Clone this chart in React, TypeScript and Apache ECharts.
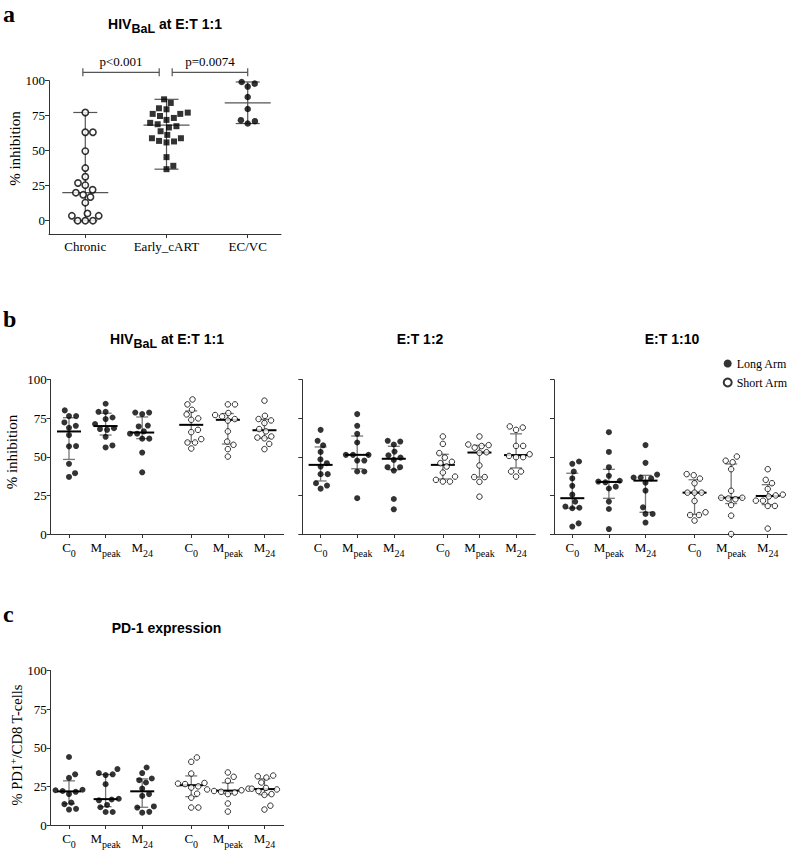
import { useEffect, useRef } from 'react';
import * as echarts from 'echarts';

const SERIF = '"Liberation Serif", "Times New Roman", serif';
const SANS = '"Liberation Sans", Arial, sans-serif';

// ---------------- DATA ----------------
// Panel a
const catsA = ['Chronic', 'Early_cART', 'EC/VC'];
const chronic = [77.3, 63.2, 63.2, 49.7, 37.6, 31.4, 26.9, 25.4, 22.1, 20.0, 18.5, 16.9, 12.9, 5.2, 3.5, 3.5, 0, 0, 0];
const earlyCart = [86.7, 84.1, 80.3, 79.6, 77.2, 76.3, 76.3, 74.8, 73.4, 72.0, 69.9, 68.9, 67.5, 66.6, 63.9, 61.3, 58.9, 58.9, 57.0, 56.6, 55.9, 45.4, 39.2, 36.8];
const ecvc = [99.1, 97.9, 95.8, 88.4, 79.8, 71.8, 71.1, 69.4];
const pValues = ['p<0.001', 'p=0.0074'];

// Panels b & c: timepoints
const timepoints = ['C0', 'Mpeak', 'M24'];
const yTicks = [0, 25, 50, 75, 100];

// E:T 1:1 (HIV BaL)
const et11LongC0 = [80.1, 76.4, 76.4, 72.3, 70.1, 68.8, 64.1, 57.0, 56.8, 45.5, 39.4, 37.0];
const et11LongMpeak = [84.4, 79.2, 79.2, 75.5, 74.5, 71.3, 68.6, 68.0, 67.5, 63.0, 57.4, 56.1];
const et11LongM24 = [78.7, 78.7, 77.7, 70.3, 69.7, 66.5, 65.0, 65.0, 61.8, 61.8, 52.8, 40.0];
const et11ShortC0 = [87.2, 84.0, 80.5, 77.5, 74.9, 74.0, 67.5, 66.0, 61.5, 59.3, 59.3, 55.4];
const et11ShortMpeak = [84.0, 84.0, 78.4, 77.1, 76.2, 74.5, 73.5, 66.5, 59.9, 57.8, 55.0, 50.2];
const et11ShortM24 = [86.4, 76.6, 74.5, 73.6, 71.9, 68.0, 66.5, 63.2, 62.5, 62.0, 58.4, 55.0];

// E:T 1:2
const et12LongC0 = [67.5, 60.4, 57.5, 53.2, 48.3, 45.9, 43.7, 38.8, 38.8, 32.9, 31.4, 29.4];
const et12LongMpeak = [77.7, 70.1, 64.9, 59.3, 51.3, 51.3, 51.3, 47.6, 47.6, 40.5, 40.5, 23.2];
const et12LongM24 = [60.4, 59.9, 58.0, 53.4, 51.0, 49.5, 48.0, 43.3, 43.3, 41.1, 22.7, 16.0];
const et12ShortC0 = [63.2, 58.4, 52.4, 49.5, 46.8, 45.9, 43.7, 39.8, 37.2, 35.1, 34.0, 34.0];
const et12ShortMpeak = [63.2, 58.0, 57.6, 57.0, 56.0, 53.0, 52.6, 44.4, 36.9, 36.9, 33.8, 24.2];
const et12ShortM24 = [69.7, 69.0, 67.5, 57.1, 57.1, 51.7, 50.6, 49.8, 49.8, 40.5, 40.5, 37.2];

// E:T 1:10
const et110LongC0 = [47.0, 45.5, 40.5, 36.0, 31.2, 25.5, 20.9, 17.8, 17.0, 16.7, 6.9, 4.8];
const et110LongMpeak = [66.0, 53.2, 43.3, 37.7, 34.5, 34.0, 33.5, 30.7, 29.5, 21.0, 16.2, 3.2];
const et110LongM24 = [57.6, 46.1, 38.5, 36.6, 36.6, 36.0, 33.2, 28.1, 17.3, 13.0, 13.0, 7.4];
const et110ShortC0 = [38.8, 38.1, 35.9, 32.9, 26.8, 26.8, 26.8, 21.4, 14.1, 12.3, 12.3, 8.7];
const et110ShortMpeak = [50.2, 47.5, 46.5, 42.0, 28.0, 23.5, 23.5, 23.0, 22.5, 18.8, 11.9, 0];
const et110ShortM24 = [42.0, 35.1, 32.9, 29.2, 25.5, 25.0, 24.3, 21.6, 21.6, 18.2, 18.2, 3.5];

// PD-1 expression
const pd1LongC0 = [44.0, 32.8, 30.5, 22.8, 22.5, 22.0, 21.5, 20.0, 14.5, 13.5, 10.5, 10.0];
const pd1LongMpeak = [36.2, 33.6, 32.8, 32.3, 26.4, 17.0, 16.5, 16.0, 13.0, 11.5, 8.4, 8.4];
const pd1LongM24 = [37.2, 33.6, 30.1, 29.0, 27.5, 23.6, 20.0, 18.8, 12.0, 11.3, 8.5, 8.0];
const pd1ShortC0 = [43.7, 40.9, 33.3, 27.2, 26.8, 26.5, 25.0, 24.2, 20.3, 17.7, 11.3, 11.3];
const pd1ShortMpeak = [34.0, 31.2, 28.6, 23.5, 23.0, 22.5, 22.0, 21.5, 21.0, 20.0, 13.9, 8.7];
const pd1ShortM24 = [32.0, 31.5, 30.7, 27.5, 24.0, 23.5, 23.0, 22.0, 20.0, 19.5, 12.5, 10.0];

// ---------------- LAYOUT ----------------
const A = { left: 49, top: 80.7, width: 232, height: 153.3, xMin: -0.447, xMax: 2.41, yMin: -9.5, yMax: 100 };
const B_LEFTS = [50.7, 302.3, 554];
const B = { top: 379.7, width: 233, height: 154.3, xMin: -0.5, xMax: 5.866, yMin: 0, yMax: 100 };
const C = { left: 50.7, top: 670.5, width: 233, height: 154.5, xMin: -0.5, xMax: 5.866, yMin: 0, yMax: 100 };
const POS_A = [0, 1, 2];
const POS_B = [0, 1, 2, 3.34, 4.34, 5.34];
const BRACKETS = [
  { from: -0.03, to: 0.91, level: 106, label: 0 },
  { from: 1.07, to: 2.0, level: 106, label: 1 },
];
const AXIS_COLOR = '#333';

// ---------------- HELPERS ----------------
function quantile(a: number[], p: number) {
  const s = [...a].sort((x, y) => x - y);
  const n = s.length;
  const pos = (n + 1) * p;
  if (pos <= 1) return s[0];
  if (pos >= n) return s[n - 1];
  const lo = Math.floor(pos);
  const f = pos - lo;
  return s[lo - 1] + f * (s[lo] - s[lo - 1]);
}

// compact beeswarm in pixel space
function swarm(vals: number[], pxY: number, d: number) {
  const idx = vals.map((_, i) => i).sort((a, b) => vals[a] - vals[b]);
  const placed: { x: number; y: number }[] = [];
  const out = new Array(vals.length).fill(0);
  for (const i of idx) {
    const y = vals[i] * pxY;
    const cands = [0];
    for (const p of placed) {
      const dy = Math.abs(y - p.y);
      if (dy < d) {
        const dx = Math.sqrt(d * d - dy * dy);
        cands.push(p.x - dx, p.x + dx);
      }
    }
    const ok = cands.filter((c) => placed.every((p) => (c - p.x) ** 2 + (y - p.y) ** 2 >= d * d - 0.01));
    const bias = placed.reduce((s, p) => s + (Math.abs(y - p.y) < d ? p.x : 0), 0);
    ok.sort((a, b) => {
      const diff = Math.abs(a) - Math.abs(b);
      if (Math.abs(diff) > 1e-6) return diff;
      return bias > 0 ? a - b : b - a;
    });
    const x = ok[0];
    placed.push({ x, y });
    out[i] = x;
  }
  return out;
}

function swarmData(groups: number[][], positions: number[], pxX: number, pxY: number, d: number) {
  const out: number[][] = [];
  groups.forEach((g, gi) => {
    const offs = swarm(g, pxY, d);
    g.forEach((v, k) => out.push([positions[gi] + offs[k] / pxX, v]));
  });
  return out;
}

type ErrStyle = { wColor: string; wWidth: number; cap: number; med: number; mColor: string; mWidth: number };

function errSeries(gi: number, data: number[][], st: ErrStyle) {
  return {
    type: 'custom',
    name: 'err',
    xAxisIndex: gi,
    yAxisIndex: gi,
    clip: false,
    silent: true,
    z: 1,
    encode: { x: 0, y: [1, 2, 3] },
    data,
    renderItem: (_p: any, api: any) => {
      const x = api.value(0);
      const lo = api.coord([x, api.value(1)]);
      const md = api.coord([x, api.value(2)]);
      const hi = api.coord([x, api.value(3)]);
      const ws = { stroke: st.wColor, lineWidth: st.wWidth };
      return {
        type: 'group',
        children: [
          { type: 'line', shape: { x1: lo[0], y1: lo[1], x2: hi[0], y2: hi[1] }, style: ws },
          { type: 'line', shape: { x1: lo[0] - st.cap, y1: lo[1], x2: lo[0] + st.cap, y2: lo[1] }, style: ws },
          { type: 'line', shape: { x1: hi[0] - st.cap, y1: hi[1], x2: hi[0] + st.cap, y2: hi[1] }, style: ws },
          { type: 'line', shape: { x1: md[0] - st.med, y1: md[1], x2: md[0] + st.med, y2: md[1] }, style: { stroke: st.mColor, lineWidth: st.mWidth } },
        ],
      };
    },
  };
}

const tpRich = {
  m: { fontFamily: SERIF, fontSize: 13, lineHeight: 13, verticalAlign: 'top', color: '#000' },
  s: { fontFamily: SERIF, fontSize: 10, lineHeight: 25, color: '#000' },
};
const tpLabel = (v: number) => {
  const i = POS_B.findIndex((p) => Math.abs(p - v) < 0.01);
  const t = timepoints[i % 3];
  return '{m|' + t.charAt(0) + '}{s|' + t.slice(1) + '}';
};

function xAxisB(gi: number, box: any) {
  return {
    gridIndex: gi,
    type: 'value',
    min: box.xMin,
    max: box.xMax,
    axisLine: { show: true, onZero: false, lineStyle: { color: AXIS_COLOR, width: 1 } },
    axisTick: { show: true, length: 4, customValues: POS_B, lineStyle: { color: AXIS_COLOR } },
    axisLabel: { customValues: POS_B, formatter: tpLabel, margin: 7, rich: tpRich },
    splitLine: { show: false },
  };
}

function yAxisB(gi: number, showLabels: boolean) {
  return {
    gridIndex: gi,
    type: 'value',
    min: 0,
    max: 100,
    interval: 25,
    axisLine: { show: true, onZero: false, lineStyle: { color: AXIS_COLOR, width: 1 } },
    axisTick: { show: true, length: 4, lineStyle: { color: AXIS_COLOR } },
    axisLabel: { show: showLabels, margin: 4, fontFamily: SERIF, fontSize: 13, color: '#000' },
    splitLine: { show: false },
  };
}

const errB: ErrStyle = { wColor: '#777', wWidth: 1.3, cap: 6, med: 12, mColor: '#000', mWidth: 2 };
const errA: ErrStyle = { wColor: '#555', wWidth: 1.2, cap: 12, med: 23, mColor: '#555', mWidth: 1.2 };

function longShortSeries(gi: number, longG: number[][], shortG: number[][], box: any) {
  const pxX = box.width / (box.xMax - box.xMin);
  const pxY = box.height / (box.yMax - box.yMin);
  const d = 7.1;
  const allG = [...longG, ...shortG];
  const errData = allG.map((g, i) => [POS_B[i], quantile(g, 0.25), quantile(g, 0.5), quantile(g, 0.75)]);
  return [
    errSeries(gi, errData, errB),
    {
      type: 'scatter', name: 'Long Arm', xAxisIndex: gi, yAxisIndex: gi, z: 3, silent: true,
      symbol: 'circle', symbolSize: 6,
      itemStyle: { color: '#000' },
      data: swarmData(longG, POS_B.slice(0, 3), pxX, pxY, d),
    },
    {
      type: 'scatter', name: 'Short Arm', xAxisIndex: gi, yAxisIndex: gi, z: 3, silent: true,
      symbol: 'circle', symbolSize: 5.5,
      itemStyle: { color: '#fff', borderColor: '#000', borderWidth: 1 },
      data: swarmData(shortG, POS_B.slice(3, 6), pxX, pxY, d),
    },
  ];
}

function buildOption() {
  const pxXA = A.width / (A.xMax - A.xMin);
  const pxYA = A.height / (A.yMax - A.yMin);
  const groupsA = [chronic, earlyCart, ecvc];
  const errDataA = groupsA.map((g, i) => [POS_A[i], Math.min(...g), quantile(g, 0.5), Math.max(...g)]);
  const swA = groupsA.map((g, i) => {
    const offs = swarm(g, pxYA, 7.6);
    return g.map((v, k) => [POS_A[i] + offs[k] / pxXA, v]);
  });

  const bracketSeries = {
    type: 'custom',
    name: 'brackets',
    xAxisIndex: 0,
    yAxisIndex: 0,
    clip: false,
    silent: true,
    z: 1,
    data: BRACKETS.map((b) => [b.from, b.to, b.level, b.label]),
    renderItem: (_p: any, api: any) => {
      const p1 = api.coord([api.value(0), api.value(2)]);
      const p2 = api.coord([api.value(1), api.value(2)]);
      const st = { stroke: '#555', lineWidth: 1.2 };
      return {
        type: 'group',
        children: [
          { type: 'line', shape: { x1: p1[0], y1: p1[1], x2: p2[0], y2: p2[1] }, style: st },
          { type: 'line', shape: { x1: p1[0], y1: p1[1] - 4, x2: p1[0], y2: p1[1] + 4 }, style: st },
          { type: 'line', shape: { x1: p2[0], y1: p2[1] - 4, x2: p2[0], y2: p2[1] + 4 }, style: st },
          {
            type: 'text',
            x: (p1[0] + p2[0]) / 2,
            y: p1[1] - 4,
            style: {
              text: pValues[api.value(3)], fill: '#000', fontFamily: SERIF, fontSize: 13,
              align: 'center', verticalAlign: 'bottom', textAlign: 'center', textVerticalAlign: 'bottom',
            },
          },
        ],
      };
    },
  };

  const grids = [
    { left: A.left, top: A.top, width: A.width, height: A.height },
    ...B_LEFTS.map((l) => ({ left: l, top: B.top, width: B.width, height: B.height })),
    { left: C.left, top: C.top, width: C.width, height: C.height },
  ];

  const xAxes = [
    {
      gridIndex: 0, type: 'value', min: A.xMin, max: A.xMax,
      axisLine: { show: true, onZero: false, lineStyle: { color: AXIS_COLOR, width: 1 } },
      axisTick: { show: true, length: 4, customValues: POS_A, lineStyle: { color: AXIS_COLOR } },
      axisLabel: {
        customValues: POS_A, formatter: (v: number) => catsA[Math.round(v)], margin: 6,
        fontFamily: SERIF, fontSize: 13, color: '#000',
      },
      splitLine: { show: false },
    },
    xAxisB(1, B), xAxisB(2, B), xAxisB(3, B), xAxisB(4, C),
  ];

  const yAxes = [
    {
      gridIndex: 0, type: 'value', min: A.yMin, max: A.yMax,
      axisLine: { show: true, onZero: false, lineStyle: { color: AXIS_COLOR, width: 1 } },
      axisTick: { show: true, length: 4, customValues: yTicks, lineStyle: { color: AXIS_COLOR } },
      axisLabel: { customValues: yTicks, margin: 4, fontFamily: SERIF, fontSize: 13, color: '#000' },
      splitLine: { show: false },
    },
    yAxisB(1, true), yAxisB(2, false), yAxisB(3, false), yAxisB(4, true),
  ];

  const series: any[] = [
    errSeries(0, errDataA, errA),
    bracketSeries,
    {
      type: 'scatter', name: catsA[0], xAxisIndex: 0, yAxisIndex: 0, z: 3, silent: true,
      symbol: 'circle', symbolSize: 6.3,
      itemStyle: { color: '#fff', borderColor: '#000', borderWidth: 1.6 },
      data: swA[0],
    },
    {
      type: 'scatter', name: catsA[1], xAxisIndex: 0, yAxisIndex: 0, z: 3, silent: true,
      symbol: 'rect', symbolSize: 6,
      itemStyle: { color: '#000' },
      data: swA[1],
    },
    {
      type: 'scatter', name: catsA[2], xAxisIndex: 0, yAxisIndex: 0, z: 3, silent: true,
      symbol: 'circle', symbolSize: 6.5,
      itemStyle: { color: '#000' },
      data: swA[2],
    },
    ...longShortSeries(1, [et11LongC0, et11LongMpeak, et11LongM24], [et11ShortC0, et11ShortMpeak, et11ShortM24], B),
    ...longShortSeries(2, [et12LongC0, et12LongMpeak, et12LongM24], [et12ShortC0, et12ShortMpeak, et12ShortM24], B),
    ...longShortSeries(3, [et110LongC0, et110LongMpeak, et110LongM24], [et110ShortC0, et110ShortMpeak, et110ShortM24], B),
    ...longShortSeries(4, [pd1LongC0, pd1LongMpeak, pd1LongM24], [pd1ShortC0, pd1ShortMpeak, pd1ShortM24], C),
  ];

  const titleRich = {
    t: { fontFamily: SANS, fontSize: 14, fontWeight: 'bold', lineHeight: 14, verticalAlign: 'top', fill: '#000' },
    sub: { fontFamily: SANS, fontSize: 12.5, fontWeight: 'bold', lineHeight: 25, fill: '#000' },
  };
  const txt = (x: number, y: number, text: string, extra: any = {}) => ({
    type: 'text', x, y, silent: true,
    style: { text, fill: '#000', align: 'center', verticalAlign: 'middle', textAlign: 'center', textVerticalAlign: 'middle', ...extra },
  });
  const letter = (x: number, y: number, t: string) =>
    txt(x, y, t, { fontFamily: SERIF, fontSize: 24, lineHeight: 18, fontWeight: 'bold', align: 'left', textAlign: 'left' });
  const yName = (x: number, y: number, text: string, extra: any = {}) => ({
    ...txt(x, y, text, { fontFamily: SERIF, fontSize: 15, ...extra }),
    rotation: Math.PI / 2,
  });

  const graphic = [
    letter(3, 13.5, 'a'),
    letter(3, 318.5, 'b'),
    letter(3, 613.5, 'c'),
    txt(165, 29, '{t|HIV}{sub|BaL}{t| at E:T 1:1}', { rich: titleRich }),
    txt(167, 344, '{t|HIV}{sub|BaL}{t| at E:T 1:1}', { rich: titleRich }),
    txt(420, 338.5, 'E:T 1:2', { fontFamily: SANS, fontSize: 14, fontWeight: 'bold' }),
    txt(672, 338.5, 'E:T 1:10', { fontFamily: SANS, fontSize: 14, fontWeight: 'bold' }),
    txt(166.5, 628, 'PD-1 expression', { fontFamily: SANS, fontSize: 14, fontWeight: 'bold' }),
    yName(14.5, 148.5, '% inhibition'),
    yName(12, 452, '% inhibition'),
    yName(13, 745, '{a|% PD1}{s|+}{a|/CD8 T-cells}', {
      rich: {
        a: { fontFamily: SERIF, fontSize: 14.5, lineHeight: 15, verticalAlign: 'bottom', fill: '#000' },
        s: { fontFamily: SERIF, fontSize: 10, lineHeight: 22, fill: '#000' },
      },
    }),
  ];

  return {
    animation: false,
    backgroundColor: '#fff',
    grid: grids,
    xAxis: xAxes,
    yAxis: yAxes,
    legend: {
      data: ['Long Arm', 'Short Arm'],
      orient: 'vertical',
      left: 722.7,
      top: 357.5,
      padding: 0,
      itemWidth: 8,
      itemHeight: 8,
      itemGap: 7,
      icon: 'circle',
      selectedMode: false,
      textStyle: { fontFamily: SERIF, fontSize: 12, color: '#000', overflow: 'none' },
    },
    graphic,
    series,
  };
}

export default function App() {
  const ref = useRef<HTMLDivElement>(null);
  useEffect(() => {
    if (!ref.current) return;
    const chart = echarts.init(ref.current, undefined, { renderer: 'svg' });
    chart.setOption(buildOption() as any);
    return () => chart.dispose();
  }, []);
  return <div ref={ref} style={{ position: 'fixed', left: 0, top: 0, width: 790, height: 850, background: '#fff' }} />;
}
